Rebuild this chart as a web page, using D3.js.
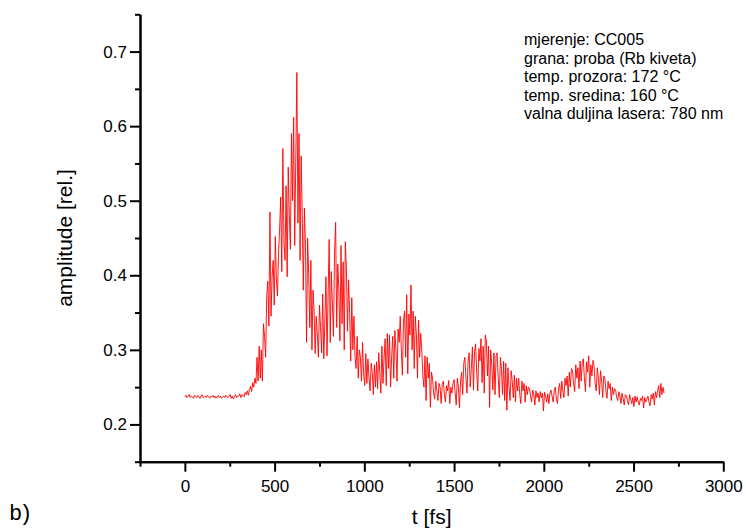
<!DOCTYPE html>
<html>
<head>
<meta charset="utf-8">
<script src="https://cdn.jsdelivr.net/npm/d3@7"></script>
<style>
  html, body { margin: 0; padding: 0; background: #fff; }
  svg { display: block; }
  text { font-family: "Liberation Sans", Arial, sans-serif; fill: #000; }
</style>
</head>
<body>
<svg id="chart" width="746" height="532"></svg>
<script>
// Sampling of the pump-probe trace: one sample every 6 fs starting at t = 0.
const timeStart = 0;
const timeStep = 6;

// Probe amplitude [rel.], ten samples (60 fs) per row.
const amplitude = [
  0.237,0.239,0.236,0.238,0.240,0.236,0.238,0.237,0.235,0.239,
  0.238,0.236,0.239,0.237,0.235,0.238,0.240,0.236,0.237,0.238,
  0.236,0.239,0.237,0.235,0.238,0.237,0.239,0.236,0.238,0.235,
  0.237,0.239,0.236,0.238,0.235,0.237,0.238,0.236,0.239,0.237,
  0.236,0.238,0.240,0.235,0.238,0.234,0.237,0.240,0.236,0.238,
  0.238,0.241,0.236,0.240,0.239,0.237,0.243,0.240,0.245,0.239,
  0.247,0.251,0.244,0.256,0.250,0.262,0.255,0.290,0.258,0.305,
  0.262,0.300,0.258,0.335,0.318,0.290,0.372,0.392,0.332,0.485,
  0.345,0.398,0.420,0.360,0.452,0.395,0.372,0.430,0.462,0.505,
  0.405,0.570,0.445,0.420,0.520,0.398,0.545,0.480,0.435,0.590,
  0.500,0.612,0.440,0.555,0.672,0.470,0.590,0.420,0.560,0.480,
  0.380,0.490,0.440,0.310,0.450,0.400,0.330,0.420,0.300,0.380,
  0.352,0.295,0.345,0.320,0.290,0.360,0.330,0.296,0.375,0.288,
  0.340,0.398,0.292,0.372,0.448,0.310,0.405,0.360,0.318,0.430,
  0.471,0.330,0.415,0.380,0.312,0.440,0.335,0.418,0.300,0.445,
  0.410,0.325,0.394,0.350,0.285,0.370,0.300,0.345,0.290,0.275,
  0.318,0.262,0.300,0.290,0.258,0.310,0.268,0.252,0.295,0.255,
  0.288,0.262,0.245,0.282,0.270,0.240,0.280,0.250,0.284,0.248,
  0.296,0.270,0.242,0.305,0.255,0.290,0.315,0.252,0.322,0.275,
  0.320,0.250,0.290,0.318,0.262,0.326,0.300,0.258,0.328,0.310,
  0.345,0.300,0.266,0.338,0.352,0.290,0.374,0.268,0.348,0.320,
  0.387,0.300,0.352,0.275,0.345,0.320,0.262,0.340,0.290,0.322,
  0.300,0.265,0.250,0.292,0.232,0.290,0.262,0.282,0.223,0.270,
  0.262,0.242,0.234,0.258,0.245,0.232,0.255,0.250,0.228,0.254,
  0.258,0.240,0.230,0.252,0.245,0.259,0.228,0.250,0.242,0.255,
  0.260,0.242,0.226,0.262,0.250,0.222,0.258,0.270,0.240,0.282,
  0.290,0.262,0.242,0.285,0.296,0.250,0.275,0.304,0.246,0.298,
  0.308,0.270,0.245,0.302,0.285,0.315,0.256,0.305,0.242,0.320,
  0.312,0.265,0.305,0.223,0.300,0.280,0.246,0.296,0.240,0.292,
  0.296,0.262,0.236,0.290,0.275,0.240,0.285,0.232,0.282,0.219,
  0.276,0.250,0.232,0.272,0.258,0.236,0.266,0.230,0.262,0.245,
  0.262,0.240,0.228,0.258,0.245,0.255,0.230,0.252,0.240,0.250,
  0.248,0.238,0.230,0.246,0.240,0.226,0.245,0.236,0.242,0.230,
  0.244,0.236,0.242,0.218,0.243,0.238,0.230,0.241,0.228,0.242,
  0.246,0.238,0.230,0.245,0.250,0.234,0.228,0.248,0.255,0.235,
  0.258,0.245,0.236,0.262,0.252,0.265,0.238,0.270,0.250,0.275,
  0.272,0.255,0.244,0.280,0.262,0.276,0.248,0.285,0.258,0.282,
  0.288,0.262,0.244,0.284,0.270,0.292,0.250,0.280,0.265,0.286,
  0.278,0.255,0.245,0.276,0.262,0.240,0.272,0.258,0.236,0.265,
  0.262,0.245,0.235,0.258,0.248,0.255,0.232,0.250,0.240,0.248,
  0.246,0.236,0.232,0.244,0.238,0.228,0.242,0.235,0.226,0.240,
  0.238,0.232,0.226,0.240,0.234,0.228,0.236,0.224,0.238,0.230,
  0.237,0.230,0.226,0.235,0.232,0.238,0.222,0.236,0.230,0.234,
  0.238,0.230,0.225,0.240,0.234,0.242,0.226,0.244,0.236,0.245,
  0.252,0.236,0.255,0.240,0.250,0.242
];

// Axis ticks
const xMajorTicks = [0, 500, 1000, 1500, 2000, 2500, 3000];
const xMinorTicks = [-250, 250, 750, 1250, 1750, 2250, 2750];
const yMajorTicks = [0.2, 0.3, 0.4, 0.5, 0.6, 0.7];
const yMinorTicks = [0.15, 0.25, 0.35, 0.45, 0.55, 0.65, 0.75];

// Measurement notes shown in the upper right corner
const infoLines = [
  "mjerenje: CC005",
  "grana: proba (Rb kiveta)",
  "temp. prozora: 172 °C",
  "temp. sredina: 160 °C",
  "valna duljina lasera: 780 nm"
];

const xLabel = "t [fs]";
const yLabel = "amplitude [rel.]";
const panelLabel = "b)";

const series = amplitude.map((v, i) => ({ t: timeStart + i * timeStep, v }));

const svg = d3.select("#chart");

const x = d3.scaleLinear().domain([-250, 3000]).range([140, 723.3]);
const y = d3.scaleLinear().domain([0.15, 0.75]).range([461.7, 14.3]);

// Trace
const line = d3.line().x(d => x(d.t)).y(d => y(d.v));
svg.append("path")
  .datum(series)
  .attr("fill", "none")
  .attr("stroke", "#ff0000")
  .attr("stroke-width", 0.9)
  .attr("stroke-linejoin", "miter")
  .attr("d", line);

// Bottom axis
const gx = svg.append("g").attr("transform", `translate(0,${y(0.15)})`);
gx.call(d3.axisBottom(x).tickValues(xMajorTicks).tickSize(10).tickSizeOuter(0)
  .tickPadding(8).tickFormat(d3.format("d")));
const gxMinor = svg.append("g").attr("transform", `translate(0,${y(0.15)})`);
gxMinor.call(d3.axisBottom(x).tickValues(xMinorTicks).tickSize(5).tickSizeOuter(0)
  .tickFormat(""));

// Left axis
const gy = svg.append("g").attr("transform", `translate(${x(-250)},0)`);
gy.call(d3.axisLeft(y).tickValues(yMajorTicks).tickSize(10).tickSizeOuter(0)
  .tickPadding(3).tickFormat(d3.format(".1f")));
const gyMinor = svg.append("g").attr("transform", `translate(${x(-250)},0)`);
gyMinor.call(d3.axisLeft(y).tickValues(yMinorTicks).tickSize(5).tickSizeOuter(0)
  .tickFormat(""));

svg.selectAll(".domain").attr("stroke", "#000").attr("stroke-width", 2);
svg.selectAll(".tick line").attr("stroke", "#000").attr("stroke-width", 2);
svg.selectAll(".tick text")
  .style("font-family", '"Liberation Sans", Arial, sans-serif')
  .style("font-size", "17px")
  .attr("fill", "#000");

// Axis titles
svg.append("text")
  .attr("x", (x(-250) + x(3000)) / 2)
  .attr("y", 524)
  .attr("text-anchor", "middle")
  .style("font-size", "21px")
  .text(xLabel);

svg.append("text")
  .attr("transform", `translate(72,${(y(0.15) + y(0.75)) / 2}) rotate(-90)`)
  .attr("text-anchor", "middle")
  .style("font-size", "21px")
  .text(yLabel);

// Panel label
svg.append("text")
  .attr("x", 9)
  .attr("y", 520)
  .style("font-family", '"Liberation Mono", "Courier New", monospace')
  .style("font-size", "22px")
  .style("letter-spacing", "-3px")
  .text(panelLabel);

// Measurement notes
svg.append("g")
  .selectAll("text")
  .data(infoLines)
  .join("text")
  .attr("x", 524)
  .attr("y", (d, i) => 45 + i * 18.5)
  .style("font-size", "16px")
  .text(d => d);
</script>
</body>
</html>
